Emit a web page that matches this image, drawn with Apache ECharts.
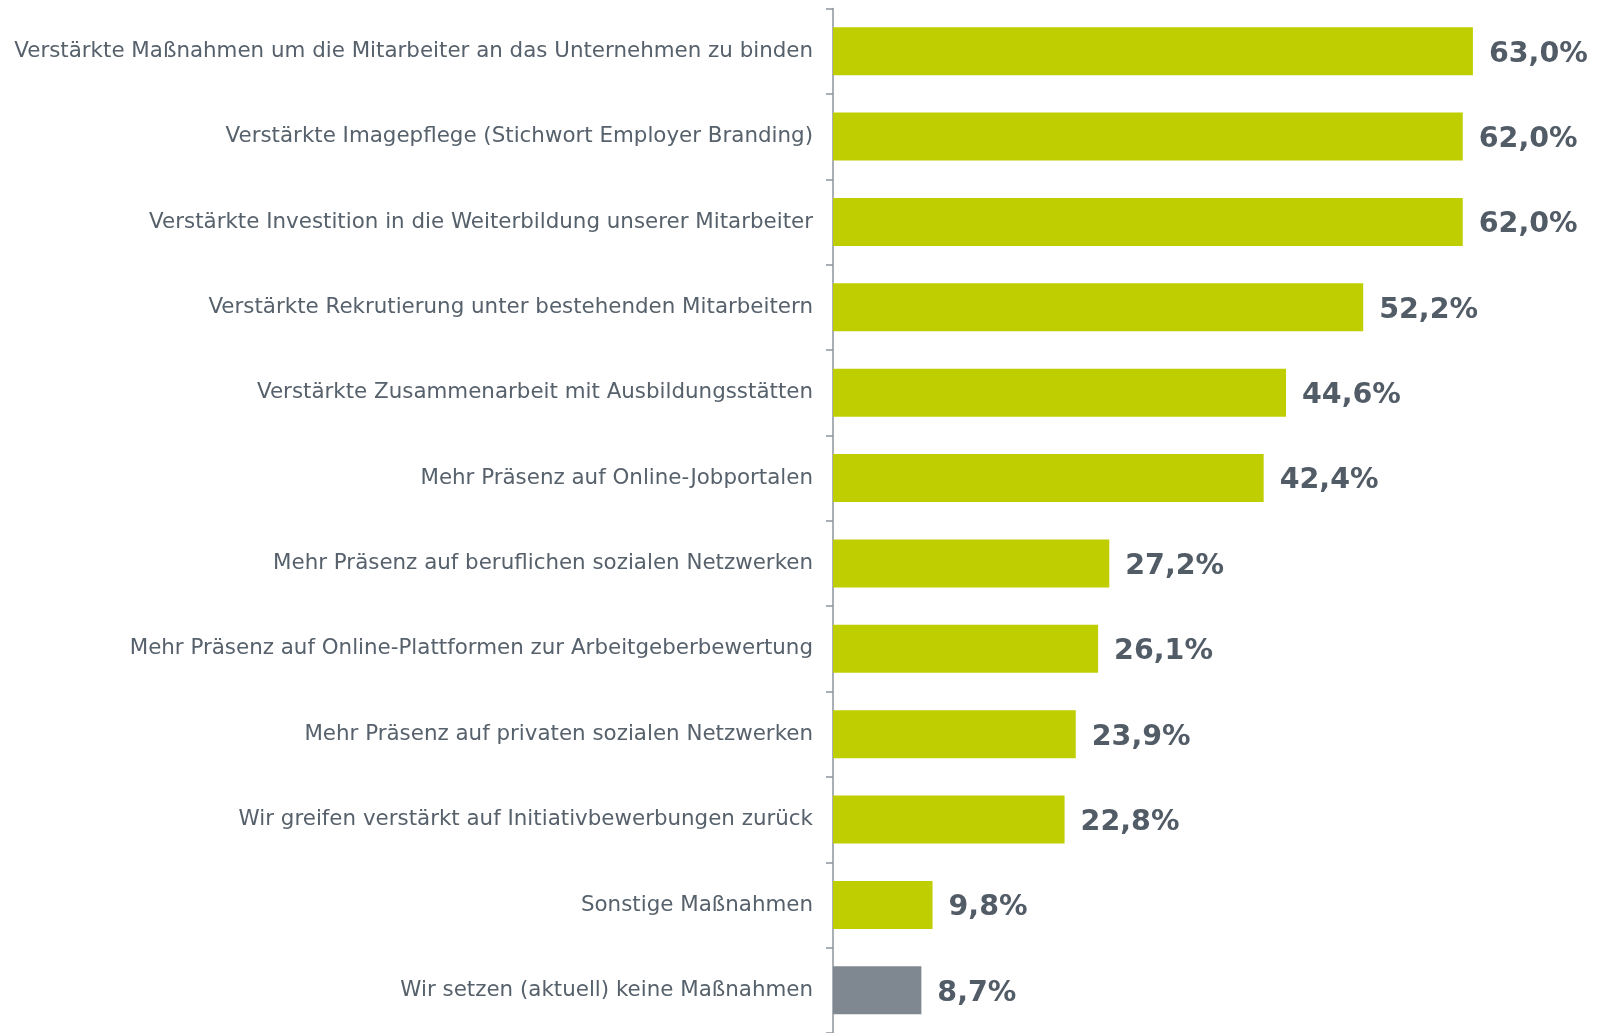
<!DOCTYPE html>
<html><head><meta charset="utf-8">
<script src="https://cdn.jsdelivr.net/npm/echarts@6/dist/echarts.min.js"></script>
<style>html,body{margin:0;padding:0;background:#fff}#c{width:1604px;height:1033px}</style>
</head><body><div id="c"></div>
<script>
const categories = [
  "Verstärkte Maßnahmen um die Mitarbeiter an das Unternehmen zu binden",
  "Verstärkte Imagepflege (Stichwort Employer Branding)",
  "Verstärkte Investition in die Weiterbildung unserer Mitarbeiter",
  "Verstärkte Rekrutierung unter bestehenden Mitarbeitern",
  "Verstärkte Zusammenarbeit mit Ausbildungsstätten",
  "Mehr Präsenz auf Online-Jobportalen",
  "Mehr Präsenz auf beruflichen sozialen Netzwerken",
  "Mehr Präsenz auf Online-Plattformen zur Arbeitgeberbewertung",
  "Mehr Präsenz auf privaten sozialen Netzwerken",
  "Wir greifen verstärkt auf Initiativbewerbungen zurück",
  "Sonstige Maßnahmen",
  "Wir setzen (aktuell) keine Maßnahmen"
];
const values = [63.0, 62.0, 62.0, 52.2, 44.6, 42.4, 27.2, 26.1, 23.9, 22.8, 9.8, 8.7];
const highlightIndex = 11;

const chart = echarts.init(document.getElementById('c'), null, {renderer: 'canvas'});
chart.setOption({
  animation: false,
  grid: {left: 833, top: 8.5, width: 711, height: 1027, containLabel: false},
  xAxis: {type: 'value', min: 0, max: 70, show: false},
  yAxis: {
    type: 'category', data: categories, inverse: true,
    axisLine: {show: true, lineStyle: {color: '#8c949c', width: 1.5}},
    axisTick: {show: true, length: 7, lineStyle: {color: '#8c949c', width: 1.5}},
    axisLabel: {color: '#56616c', fontFamily: 'DejaVu Sans', fontSize: 21.4, margin: 20, offset: [0, 2]}
  },
  series: [{
    type: 'bar', barWidth: 48,
    data: values.map((v, i) => ({value: v, itemStyle: {color: i === highlightIndex ? '#7f8891' : '#bfce00'}})),
    label: {
      show: true, position: 'right', distance: 16, offset: [0, 3],
      color: '#525c67', fontFamily: 'DejaVu Sans', fontWeight: 'bold', fontSize: 28.5,
      formatter: p => p.value.toFixed(1).replace('.', ',') + '%'
    }
  }]
});
</script></body></html>
